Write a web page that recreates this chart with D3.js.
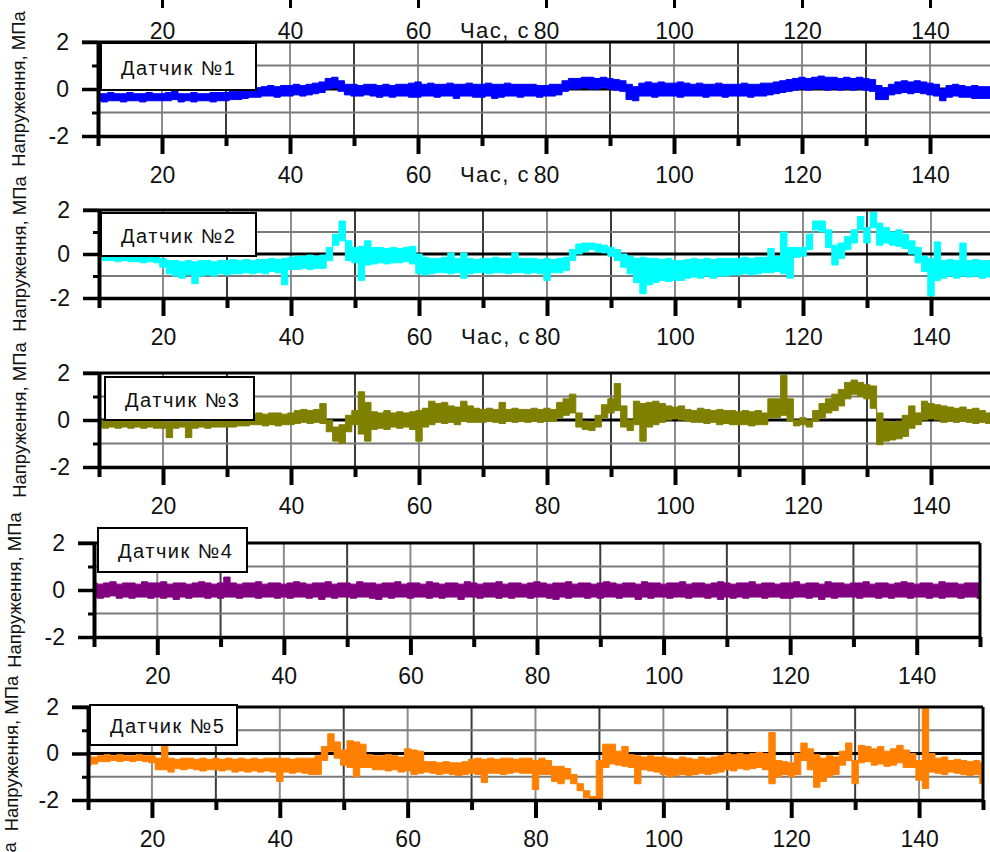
<!DOCTYPE html>
<meta charset="utf-8">
<style>
body { margin: 0; background: #fff; }
svg { display: block; font-family: "Liberation Sans", Arial, sans-serif; }
.axis path, .axis line { stroke: #000; }
.axis text { fill: #111; font-size: 23px; font-family: "Liberation Sans", Arial, sans-serif; }
</style>
<svg width="990" height="852"></svg>
<script src="https://d3js.org/d3.v7.min.js"></script>
<script>

// tick values and texts
var xTicks = [20, 40, 60, 80, 100, 120, 140];
var xMinor = [10, 30, 50, 70, 90, 110, 130, 150];
var yTicks = [-2, 0, 2];
var yMinor = [-1, 1];
var yTitle = "Напруження, МПа";
var xTitle = "Час, с";
var sensorNames = ["Датчик №1", "Датчик №2", "Датчик №3", "Датчик №4", "Датчик №5"];

// samples every second, 10..150 s; hi / lo = upper and lower edge of the noisy trace (MPa)
var time = d3.range(10, 151);

var hi1 = [-0.2,-0.2,-0.15,-0.2,-0.2,-0.15,-0.2,-0.2,-0.15,-0.2,
 -0.2,-0.15,-0.05,-0.2,-0.2,-0.15,-0.2,-0.2,-0.15,-0.15,
 -0.15,-0.1,-0.1,-0.05,0.0,0.05,0.1,0.15,0.1,0.15,
 0.15,0.2,0.15,0.2,0.25,0.3,0.45,0.5,0.35,0.2,
 0.2,0.15,0.2,0.2,0.15,0.2,0.15,0.2,0.2,0.25,
 0.3,0.2,0.25,0.2,0.2,0.25,0.2,0.2,0.25,0.2,
 0.2,0.25,0.2,0.2,0.25,0.2,0.2,0.2,0.2,0.15,
 0.15,0.2,0.2,0.35,0.45,0.45,0.5,0.5,0.45,0.5,
 0.45,0.4,0.35,0.2,0.1,0.25,0.3,0.25,0.3,0.25,
 0.25,0.3,0.25,0.2,0.25,0.2,0.2,0.25,0.2,0.2,
 0.2,0.25,0.2,0.2,0.25,0.25,0.3,0.35,0.4,0.45,
 0.5,0.45,0.5,0.55,0.5,0.5,0.45,0.5,0.45,0.5,
 0.45,0.4,0.15,0.05,0.2,0.3,0.35,0.3,0.35,0.3,
 0.25,0.2,0.0,0.15,0.2,0.15,0.1,0.15,0.1,0.1,
 0.1];
var lo1 = [-0.5,-0.55,-0.5,-0.5,-0.55,-0.5,-0.5,-0.55,-0.5,-0.5,
 -0.5,-0.5,-0.45,-0.55,-0.5,-0.55,-0.5,-0.5,-0.55,-0.5,
 -0.5,-0.45,-0.45,-0.4,-0.35,-0.35,-0.3,-0.3,-0.35,-0.3,
 -0.3,-0.25,-0.3,-0.25,-0.2,-0.15,0.0,0.05,-0.1,-0.25,
 -0.3,-0.3,-0.25,-0.3,-0.35,-0.3,-0.35,-0.3,-0.3,-0.35,
 -0.35,-0.3,-0.3,-0.35,-0.3,-0.3,-0.4,-0.3,-0.3,-0.35,
 -0.35,-0.3,-0.4,-0.35,-0.3,-0.3,-0.35,-0.3,-0.3,-0.35,
 -0.3,-0.3,-0.25,-0.1,0.0,0.0,0.05,0.0,0.0,0.05,
 0.0,-0.05,-0.1,-0.45,-0.5,-0.3,-0.3,-0.35,-0.3,-0.3,
 -0.3,-0.35,-0.3,-0.3,-0.3,-0.35,-0.3,-0.3,-0.35,-0.3,
 -0.3,-0.3,-0.35,-0.3,-0.3,-0.25,-0.2,-0.15,-0.1,-0.05,
 0.0,-0.05,0.0,0.0,-0.05,0.0,-0.05,0.0,-0.05,0.0,
 -0.05,-0.1,-0.45,-0.45,-0.25,-0.2,-0.15,-0.2,-0.15,-0.2,
 -0.25,-0.3,-0.5,-0.35,-0.3,-0.35,-0.35,-0.4,-0.4,-0.4,
 -0.4];

var hi2 = [0.0,-0.05,-0.1,-0.1,-0.1,-0.1,-0.15,-0.1,-0.15,-0.15,
 -0.2,-0.3,-0.3,-0.35,-0.3,-0.35,-0.3,-0.3,-0.35,-0.3,
 -0.3,-0.25,-0.3,-0.25,-0.3,-0.25,-0.25,-0.2,-0.25,-0.2,
 -0.15,-0.1,-0.1,-0.05,-0.1,-0.05,0.3,0.9,1.5,0.6,
 0.3,0.35,0.6,0.3,0.3,0.25,0.3,0.25,0.3,0.35,
 0.0,-0.15,-0.2,-0.2,-0.15,0.05,-0.2,0.05,-0.2,-0.25,
 -0.2,-0.2,-0.15,-0.2,-0.2,0.05,-0.2,-0.2,-0.2,-0.25,
 -0.2,-0.25,-0.2,-0.15,0.2,0.45,0.5,0.5,0.45,0.4,
 0.3,0.2,0.0,-0.1,-0.2,-0.15,-0.2,-0.2,-0.25,-0.2,
 -0.3,-0.3,-0.25,-0.2,-0.25,-0.2,-0.25,-0.2,-0.2,-0.2,
 -0.2,-0.15,-0.2,-0.15,-0.15,0.25,-0.1,1.0,0.3,0.3,
 0.3,0.9,1.5,1.5,1.1,0.4,0.5,0.8,1.1,1.7,
 1.2,1.9,1.4,1.2,1.0,1.1,0.9,0.6,0.3,-0.1,
 -0.2,0.55,-0.3,-0.25,-0.3,0.5,-0.3,-0.25,-0.3,-0.3,
 -0.3];
var lo2 = [-0.1,-0.3,-0.3,-0.35,-0.3,-0.35,-0.35,-0.4,-0.35,-0.4,
 -0.6,-0.9,-1.0,-1.1,-0.95,-1.35,-1.0,-0.95,-1.0,-0.9,
 -0.95,-0.9,-0.9,-0.85,-0.9,-0.85,-0.9,-0.8,-0.85,-1.4,
 -0.7,-0.7,-0.65,-0.7,-0.65,-0.65,-0.3,0.4,0.6,-0.3,
 -0.4,-1.2,-0.5,-0.45,-0.4,-0.45,-0.4,-0.4,-0.35,-0.45,
 -0.9,-0.95,-0.9,-0.85,-0.85,-0.9,-0.85,-1.1,-0.9,-0.85,
 -0.85,-0.9,-0.85,-0.85,-0.9,-0.85,-0.85,-0.9,-0.85,-0.9,
 -1.2,-0.85,-0.85,-0.75,-0.3,0.0,0.1,0.2,0.1,0.05,
 -0.1,-0.3,-0.6,-0.9,-1.3,-1.8,-1.4,-1.3,-1.2,-1.25,
 -1.2,-1.2,-1.1,-1.05,-1.1,-1.0,-1.1,-1.0,-1.0,-0.95,
 -0.95,-0.9,-0.95,-0.9,-0.85,-0.85,-0.8,-0.9,-1.1,-0.15,
 -0.1,0.2,1.1,1.0,0.3,-0.5,-0.2,0.2,0.5,1.1,
 0.5,1.2,0.4,0.5,0.4,0.35,0.25,0.0,-0.4,-0.8,
 -1.9,-1.2,-1.1,-1.0,-1.1,-1.0,-1.05,-1.0,-1.1,-1.05,
 -1.0];

var hi3 = [0.0,-0.05,0.0,-0.05,0.0,-0.05,0.0,-0.05,0.0,-0.05,
 -0.05,-0.1,-0.05,-0.1,-0.1,-0.05,-0.05,-0.1,-0.05,-0.05,
 0.0,0.0,0.05,0.1,0.25,0.3,0.25,0.3,0.3,0.25,
 0.3,0.4,0.45,0.4,0.45,0.7,0.0,-0.3,-0.2,0.2,
 0.4,1.2,0.75,0.35,0.3,0.4,0.3,0.35,0.3,0.35,
 0.4,0.5,0.8,0.7,0.75,0.6,0.55,0.8,0.6,0.5,
 0.45,0.5,0.45,0.75,0.45,0.5,0.45,0.45,0.5,0.45,
 0.5,0.45,0.75,0.9,1.1,0.3,-0.05,-0.1,0.2,0.65,
 0.9,1.55,0.6,0.0,0.8,0.7,0.75,0.8,0.7,0.6,
 0.55,0.6,0.45,0.4,0.5,0.45,0.4,0.45,0.4,0.4,
 0.35,0.4,0.35,0.4,0.3,0.9,0.9,1.9,0.9,0.0,
 0.1,0.0,0.4,0.7,0.9,1.1,1.3,1.6,1.7,1.6,
 1.5,1.45,0.3,-0.05,-0.1,-0.05,0.2,0.6,0.3,0.8,
 0.7,0.65,0.6,0.55,0.5,0.55,0.45,0.5,0.4,0.3,
 0.2];
var lo3 = [-0.3,-0.35,-0.3,-0.35,-0.3,-0.35,-0.3,-0.35,-0.3,-0.35,
 -0.35,-0.75,-0.35,-0.3,-0.75,-0.35,-0.3,-0.35,-0.3,-0.3,
 -0.3,-0.3,-0.25,-0.25,-0.2,-0.2,-0.25,-0.2,-0.25,-0.2,
 -0.2,-0.15,-0.1,-0.15,-0.1,-0.15,-0.5,-0.9,-1.0,-0.5,
 -0.2,-0.6,-0.9,-0.4,-0.35,-0.4,-0.3,-0.35,-0.3,-0.4,
 -0.9,-0.3,-0.2,-0.1,-0.15,-0.1,-0.2,-0.05,-0.1,-0.1,
 -0.1,-0.05,-0.1,-0.15,-0.05,-0.1,-0.05,-0.1,-0.05,-0.1,
 -0.05,-0.05,0.1,0.2,0.3,-0.3,-0.4,-0.45,-0.3,0.1,
 0.3,0.4,-0.3,-0.45,-0.2,-0.9,-0.3,-0.2,-0.1,0.0,
 0.05,0.0,-0.05,-0.1,-0.1,-0.15,-0.1,-0.2,-0.15,-0.2,
 -0.2,-0.2,-0.25,-0.2,-0.2,0.1,0.1,0.2,-0.05,-0.25,
 -0.2,-0.3,-0.05,0.1,0.3,0.4,0.6,0.9,1.1,1.0,
 0.9,0.5,-1.05,-0.9,-0.85,-0.8,-0.7,-0.35,-0.2,0.0,
 0.05,0.0,-0.1,-0.05,-0.1,-0.05,-0.1,-0.15,-0.1,-0.15,
 -0.2];

var hi4 = [0.3,0.25,0.3,0.35,0.25,0.3,0.3,0.25,0.35,0.3,
 0.3,0.35,0.25,0.3,0.3,0.25,0.3,0.35,0.3,0.25,
 0.3,0.55,0.3,0.25,0.3,0.3,0.35,0.25,0.3,0.3,
 0.25,0.3,0.35,0.3,0.25,0.3,0.3,0.35,0.25,0.3,
 0.3,0.25,0.35,0.3,0.3,0.25,0.3,0.3,0.35,0.25,
 0.3,0.3,0.25,0.35,0.3,0.25,0.3,0.3,0.25,0.35,
 0.3,0.25,0.3,0.3,0.35,0.25,0.3,0.3,0.25,0.3,
 0.35,0.3,0.25,0.3,0.3,0.35,0.25,0.3,0.3,0.25,
 0.3,0.35,0.3,0.25,0.3,0.3,0.25,0.35,0.3,0.3,
 0.25,0.3,0.3,0.35,0.25,0.3,0.3,0.25,0.3,0.35,
 0.3,0.25,0.3,0.3,0.35,0.25,0.3,0.3,0.25,0.3,
 0.3,0.35,0.25,0.3,0.3,0.25,0.35,0.3,0.3,0.25,
 0.3,0.3,0.35,0.25,0.3,0.3,0.25,0.3,0.35,0.3,
 0.25,0.3,0.3,0.25,0.35,0.3,0.3,0.25,0.3,0.3,
 0.3];
var lo4 = [-0.3,-0.35,-0.3,-0.25,-0.35,-0.3,-0.35,-0.3,-0.3,-0.35,
 -0.3,-0.35,-0.3,-0.4,-0.3,-0.35,-0.3,-0.3,-0.35,-0.3,
 -0.35,-0.3,-0.3,-0.35,-0.3,-0.3,-0.35,-0.3,-0.3,-0.35,
 -0.3,-0.35,-0.3,-0.3,-0.35,-0.3,-0.4,-0.3,-0.35,-0.3,
 -0.3,-0.35,-0.3,-0.3,-0.35,-0.4,-0.3,-0.35,-0.3,-0.3,
 -0.35,-0.3,-0.3,-0.35,-0.3,-0.35,-0.3,-0.3,-0.4,-0.3,
 -0.3,-0.35,-0.3,-0.3,-0.35,-0.3,-0.35,-0.3,-0.3,-0.35,
 -0.3,-0.3,-0.35,-0.4,-0.3,-0.35,-0.3,-0.3,-0.35,-0.3,
 -0.35,-0.3,-0.3,-0.35,-0.3,-0.3,-0.4,-0.3,-0.35,-0.3,
 -0.3,-0.35,-0.3,-0.3,-0.35,-0.3,-0.3,-0.35,-0.3,-0.4,
 -0.3,-0.35,-0.3,-0.35,-0.3,-0.3,-0.35,-0.3,-0.3,-0.35,
 -0.35,-0.3,-0.3,-0.35,-0.3,-0.4,-0.3,-0.35,-0.3,-0.3,
 -0.3,-0.35,-0.3,-0.3,-0.35,-0.3,-0.35,-0.3,-0.3,-0.35,
 -0.3,-0.3,-0.35,-0.3,-0.35,-0.3,-0.3,-0.35,-0.3,-0.3,
 -0.35];

var hi5 = [-0.1,-0.15,-0.1,-0.05,-0.1,-0.05,-0.1,-0.1,-0.05,-0.1,
 -0.1,-0.2,0.3,-0.2,-0.25,-0.2,-0.2,-0.25,-0.2,-0.25,
 -0.2,-0.25,-0.2,-0.25,-0.2,-0.25,-0.2,-0.25,-0.2,-0.2,
 -0.2,-0.2,-0.25,-0.2,-0.2,-0.2,-0.1,0.3,0.85,0.5,
 0.15,0.55,0.5,0.4,-0.05,-0.1,-0.1,-0.05,-0.1,-0.15,
 0.2,0.15,0.1,-0.35,-0.35,-0.4,-0.35,-0.4,-0.4,-0.35,
 -0.25,-0.2,-0.25,-0.2,-0.25,-0.2,-0.2,-0.25,-0.2,-0.2,
 -0.3,-0.2,-0.3,-0.55,-0.55,-0.65,-0.9,-1.3,-1.6,-1.85,
 -0.3,0.4,0.4,0.1,0.3,-0.05,-0.1,-0.15,-0.1,-0.15,
 -0.15,-0.2,-0.25,-0.15,-0.2,-0.25,-0.15,-0.2,-0.15,-0.1,
 0.0,-0.05,0.0,-0.05,0.0,0.05,0.0,0.9,-0.3,-0.35,
 -0.4,0.0,0.45,0.2,-0.05,-0.2,-0.1,-0.15,0.1,0.45,
 -0.3,0.35,0.3,0.2,0.3,0.1,0.2,0.35,0.15,0.0,
 -0.3,2.0,0.0,-0.2,-0.15,-0.3,-0.25,-0.3,-0.35,-0.3,
 -0.4];
var lo5 = [-0.5,-0.45,-0.35,-0.35,-0.3,-0.35,-0.3,-0.35,-0.3,-0.35,
 -0.4,-0.7,-0.7,-0.8,-0.65,-0.7,-0.65,-0.7,-0.75,-0.7,
 -0.7,-0.75,-0.7,-0.8,-0.75,-0.8,-0.75,-0.8,-0.75,-0.8,
 -1.2,-0.8,-0.85,-0.8,-0.85,-0.9,-0.9,-0.3,0.1,-0.2,
 -0.5,-0.6,-1.0,-0.6,-0.6,-0.7,-0.7,-0.75,-0.7,-0.8,
 -0.75,-0.9,-0.85,-0.8,-0.85,-0.9,-0.85,-0.9,-0.95,-0.9,
 -0.85,-0.9,-1.25,-0.85,-0.85,-0.9,-0.85,-0.8,-0.85,-0.85,
 -1.55,-0.9,-0.9,-1.2,-1.3,-1.1,-1.3,-1.6,-1.9,-2.05,
 -2.0,-0.6,-0.45,-0.5,-0.55,-0.6,-1.3,-0.7,-0.75,-0.8,
 -0.9,-1.0,-0.95,-0.9,-0.95,-0.9,-0.85,-0.9,-0.85,-0.8,
 -0.7,-0.75,-0.65,-0.7,-0.65,-0.6,-0.7,-1.3,-1.0,-0.9,
 -1.0,-0.9,-0.3,-0.7,-1.45,-1.2,-1.0,-0.9,-0.5,-0.3,
 -1.3,-0.4,-0.35,-0.5,-0.45,-0.55,-0.5,-0.4,-0.6,-0.6,
 -1.15,-1.5,-0.8,-0.85,-0.9,-0.8,-0.85,-0.9,-0.95,-0.9,
 -1.3];

var highs = [hi1, hi2, hi3, hi4, hi5];
var lows = [lo1, lo2, lo3, lo4, lo5];
var colors = ["#0000ff", "#00ffff", "#808000", "#800080", "#ff8000"];

// where each panel sits on the page (the scanned panels are slightly offset)
var layout = [
  {left: 98, right: 994, top: 42,  bottom: 136, box: [101, 43, 155, 47], label: true},
  {left: 99, right: 995, top: 210, bottom: 298, box: [101, 213, 155, 43], label: true},
  {left: 99, right: 995, top: 373, bottom: 467, box: [105, 377, 149, 43], label: false},
  {left: 94, right: 980, top: 543, bottom: 637, box: [98, 528, 149, 44], label: false},
  {left: 88, right: 983, top: 707, bottom: 800, box: [90, 705, 147, 40], label: false}
];

var svg = d3.select("svg");

function yAxisTitle(x, y) {
  svg.append("text")
      .attr("transform", "translate(" + x + "," + y + ") rotate(-90)")
      .attr("text-anchor", "middle")
      .attr("font-size", 18.5)
      .attr("fill", "#111")
      .text(yTitle);
}

function timeTitle(x, y) {
  svg.append("text")
      .attr("x", x)
      .attr("y", y)
      .attr("text-anchor", "end")
      .attr("font-size", 22)
      .attr("letter-spacing", 1.5)
      .attr("fill", "#111")
      .text(xTitle);
}

layout.forEach(function(p, i) {
  var x = d3.scaleLinear().domain([10, 150]).range([p.left, p.right]);
  var y = d3.scaleLinear().domain([-2, 2]).range([p.bottom, p.top]);
  var g = svg.append("g");

  g.append("clipPath")
      .attr("id", "clip" + i)
    .append("rect")
      .attr("x", p.left)
      .attr("y", p.top - 2)
      .attr("width", p.right - p.left)
      .attr("height", p.bottom - p.top + 4);

  // grid
  g.selectAll(".vmaj")
    .data(xTicks)
    .enter().append("line")
      .attr("x1", x).attr("x2", x)
      .attr("y1", p.top).attr("y2", p.bottom)
      .attr("stroke", "#8c8c8c")
      .attr("stroke-width", 2);

  g.selectAll(".vmin")
    .data(xMinor.slice(1, -1))
    .enter().append("line")
      .attr("x1", x).attr("x2", x)
      .attr("y1", p.top).attr("y2", p.bottom)
      .attr("stroke", "#3c3c3c")
      .attr("stroke-width", 2);

  g.selectAll(".hgrid")
    .data(yMinor)
    .enter().append("line")
      .attr("x1", p.left).attr("x2", p.right)
      .attr("y1", y).attr("y2", y)
      .attr("stroke", "#7a7a7a")
      .attr("stroke-width", 2);

  g.append("line")
      .attr("x1", p.left).attr("x2", p.right)
      .attr("y1", y(0)).attr("y2", y(0))
      .attr("stroke", "#000")
      .attr("stroke-width", 3);

  // signal: band between lower and upper edge of the recorded noise
  var area = d3.area()
      .curve(d3.curveStep)
      .x(function(d, j) { return x(time[j]); })
      .y0(function(d, j) { return y(lows[i][j]); })
      .y1(function(d) { return y(d); });

  g.append("path")
      .datum(highs[i])
      .attr("clip-path", "url(#clip" + i + ")")
      .attr("d", area)
      .attr("fill", colors[i])
      .attr("stroke", colors[i])
      .attr("stroke-width", 1);

  // frame
  g.append("line")
      .attr("x1", p.left - 16).attr("x2", p.right)
      .attr("y1", p.top).attr("y2", p.top)
      .attr("stroke", "#000").attr("stroke-width", 3);
  g.append("line")
      .attr("x1", p.right).attr("x2", p.right)
      .attr("y1", p.top).attr("y2", p.bottom)
      .attr("stroke", "#000").attr("stroke-width", 3);

  // axes
  var bottomAxis = g.append("g")
      .attr("class", "axis")
      .attr("transform", "translate(0," + p.bottom + ")")
      .call(d3.axisBottom(x).tickValues(xTicks).tickSize(18).tickPadding(13).tickSizeOuter(0));
  bottomAxis.select(".domain").attr("stroke-width", 3.5);
  bottomAxis.selectAll(".tick line").attr("stroke-width", 4);

  var bottomMinor = g.append("g")
      .attr("class", "axis")
      .attr("transform", "translate(0," + p.bottom + ")")
      .call(d3.axisBottom(x).tickValues(xMinor).tickSize(10).tickFormat(""));
  bottomMinor.select(".domain").remove();
  bottomMinor.selectAll(".tick line").attr("stroke-width", 4);

  var leftAxis = g.append("g")
      .attr("class", "axis")
      .attr("transform", "translate(" + p.left + ",0)")
      .call(d3.axisLeft(y).tickValues(yTicks).tickSize(16).tickPadding(13).tickSizeOuter(0)
        .tickFormat(function(d) { return d; }));
  leftAxis.select(".domain").attr("stroke-width", 4);
  leftAxis.selectAll(".tick line").attr("stroke-width", 3.5);

  var leftMinor = g.append("g")
      .attr("class", "axis")
      .attr("transform", "translate(" + p.left + ",0)")
      .call(d3.axisLeft(y).tickValues(yMinor).tickSize(6).tickFormat(""));
  leftMinor.select(".domain").remove();
  leftMinor.selectAll(".tick line").attr("stroke-width", 3);

  if (p.label) timeTitle(x(80) - 16, p.bottom + 46);

  // legend
  var b = p.box;
  g.append("rect")
      .attr("x", b[0]).attr("y", b[1])
      .attr("width", b[2]).attr("height", b[3])
      .attr("fill", "#fff")
      .attr("stroke", "#000")
      .attr("stroke-width", 2);
  g.append("text")
      .attr("x", b[0] + 20)
      .attr("y", b[1] + b[3] / 2 + 8)
      .attr("font-size", 20)
      .attr("letter-spacing", 1.5)
      .attr("fill", "#111")
      .text(sensorNames[i]);

  yAxisTitle(Math.max(p.left - 73, 18), (p.top + p.bottom) / 2);

  // tick labels of the cut-off panel above the first one
  if (i === 0) {
    var top = g.append("g")
        .attr("class", "axis")
        .attr("transform", "translate(0,-8)")
        .call(d3.axisBottom(x).tickValues(xTicks).tickSize(16).tickPadding(15).tickSizeOuter(0));
    top.select(".domain").remove();
    top.selectAll(".tick line").attr("stroke-width", 3);
    timeTitle(x(80) - 16, p.top - 4);
  }
});

// title of the cut-off panel below the last one
yAxisTitle(16, layout[4].bottom + 120);

</script>
